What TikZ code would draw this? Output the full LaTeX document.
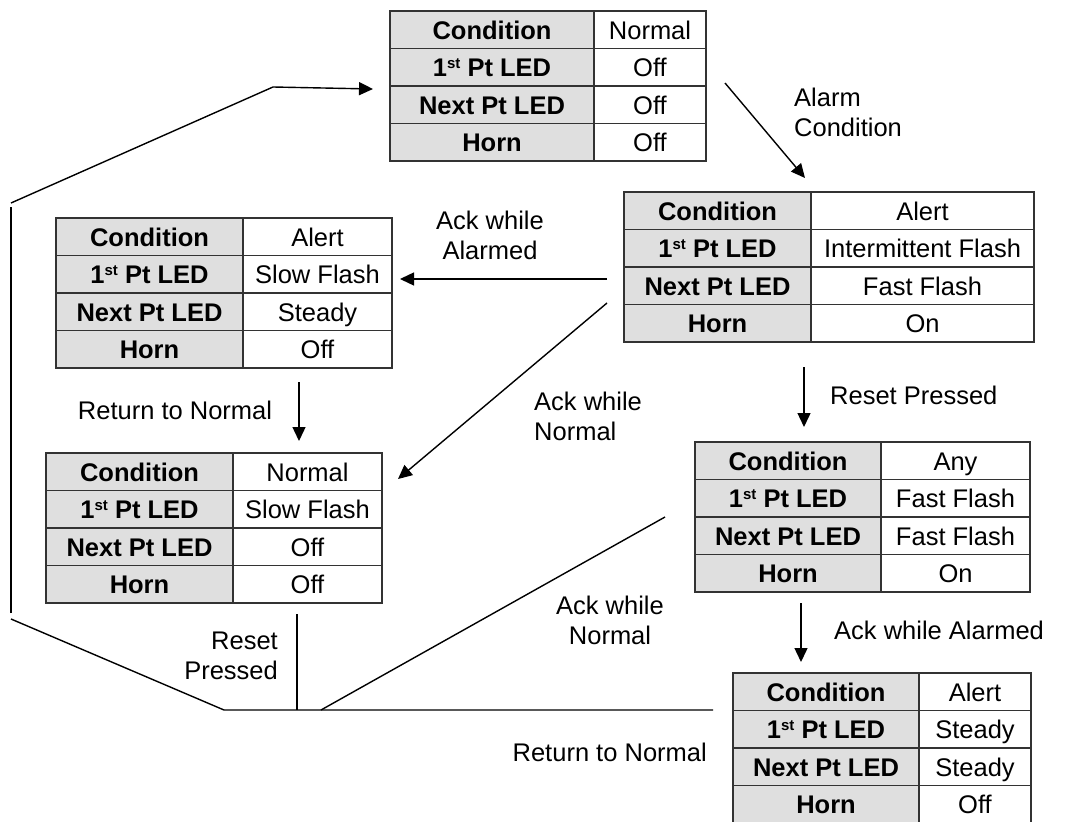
\documentclass[tikz,border=0pt]{standalone}
\usepackage{fontspec}
\setmainfont{Liberation Sans}
\usetikzlibrary{arrows.meta}
\definecolor{cellgray}{HTML}{DFDFDF}
\definecolor{gridline}{HTML}{333333}
\newcommand{\fst}{1\raisebox{8pt}{\fontsize{15}{15}\selectfont st}}
% name, x, y, w1, w2, v1, v2, v3, v4
\newcommand{\sttable}[9]{%
  \node[tblbox, minimum width={(#4+#5)*1pt}, anchor=north west] (#1) at (#2,#3) {};
  \fill[cellgray] (#2,#3) rectangle ++(#4,150);
  \draw[grid] (#2,#3) rectangle ++({#4+#5},150);
  \draw[grid] ({#2+#4},#3) -- ++(0,150);
  \foreach \r in {1,2,3} {\draw[grid] (#2,{#3+37.5*\r}) -- ++({#4+#5},0);}
  \node[bcell] at ({#2+#4/2},{#3+19}) {Condition};
  \node[bcell] at ({#2+#4/2},{#3+56.5}) {\fst\ Pt LED};
  \node[bcell] at ({#2+#4/2},{#3+94}) {Next Pt LED};
  \node[bcell] at ({#2+#4/2},{#3+131.5}) {Horn};
  \node[cell] at ({#2+#4+#5/2},{#3+19}) {#6};
  \node[cell] at ({#2+#4+#5/2},{#3+56.5}) {#7};
  \node[cell] at ({#2+#4+#5/2},{#3+94}) {#8};
  \node[cell] at ({#2+#4+#5/2},{#3+131.5}) {#9};
}
\begin{document}
\begin{tikzpicture}[x=1pt, y=-1pt,
  tblbox/.style={inner sep=0pt, outer sep=0pt, minimum height=150pt},
  grid/.style={draw=gridline, line width=1.4pt},
  cell/.style={inner sep=0pt, text height=18.3pt, text depth=0pt, font=\fontsize{25.5}{30}\selectfont},
  bcell/.style={cell, font=\fontsize{25.5}{30}\selectfont\bfseries},
  conn/.style={line width=1.4pt},
  arr/.style={conn, -{Triangle[length=14pt, width=13pt]}},
  lbl/.style={inner sep=0pt, font=\fontsize{25.5}{30}\selectfont}]
\useasboundingbox (0,0) rectangle (1067,821);
\clip (0,0) rectangle (1067,821);

\sttable{t1}{390}{11}{204}{112}{Normal}{Off}{Off}{Off}
\sttable{t2}{624}{192}{187}{223}{Alert}{Intermittent Flash}{Fast Flash}{On}
\sttable{t3}{56}{218}{187}{149}{Alert}{Slow Flash}{Steady}{Off}
\sttable{t4}{46}{453}{187}{149}{Normal}{Slow Flash}{Off}{Off}
\sttable{t5}{695}{442}{186}{149}{Any}{Fast Flash}{Fast Flash}{On}
\sttable{t6}{733}{673}{186}{112}{Alert}{Steady}{Steady}{Off}

% Alarm condition
\draw[arr] ([shift={(19,72)}]t1.north east) -- ([shift={(181,-14)}]t2.north west);
\node[lbl, anchor=west, align=left] (lalarm) at (794,112) {Alarm\\Condition};

% Ack while Alarmed (t2 -> t3)
\draw[arr] ([shift={(-17,87)}]t2.north west) -- ([shift={(8,61)}]t3.north east);
\node[lbl, align=center] (lackal1) at (490,235) {Ack while\\Alarmed};

% Ack while Normal (t2 -> t4)
\draw[arr] ([shift={(-17,111)}]t2.north west) -- ([shift={(16,26)}]t4.north east);
\node[lbl, anchor=west, align=left] (lackn1) at (534,416) {Ack while\\Normal};

% Return to Normal (t3 -> t4)
\draw[arr] ([shift={(243,14)}]t3.south west) -- ([shift={(253,-12)}]t4.north west);
\node[lbl] (lret1) at (175,410) {Return to Normal};

% Reset Pressed (t2 -> t5)
\draw[arr] ([shift={(180,25)}]t2.south west) -- ([shift={(109,-15)}]t5.north west);
\node[lbl, anchor=west] (lres1) at (830,395) {Reset Pressed};

% Ack while Alarmed (t5 -> t6)
\draw[arr] ([shift={(106,11)}]t5.south west) -- ([shift={(68,-11)}]t6.north west);
\node[lbl, anchor=west] (lackal2) at (834,630) {Ack while Alarmed};

% Return path to t1
\coordinate (jr) at ([shift={(-20,37)}]t6.north west);
\coordinate (jl) at (224,710);
\coordinate (c1) at (11,619);
\coordinate (c2) at (11,613);
\coordinate (c3) at (11,207);
\coordinate (c4) at (11,203);
\coordinate (c5) at (273,87);
\draw[conn] (jr) -- (jl) -- (c1);
\draw[conn] (c2) -- (c3);
\draw[conn] (c4) -- (c5);
\draw[arr] (c5) -- ([shift={(-17,78)}]t1.north west);
\coordinate (jres) at (297,710);
\coordinate (jack) at (321,710);
\draw[conn] ([shift={(251,11)}]t4.south west) -- (jres);
\draw[conn] ([shift={(-30,75)}]t5.north west) -- (jack);
\node[lbl, anchor=east, align=right] (lres2) at (278,656) {Reset\\Pressed};
\node[lbl, align=center] (lackn2) at (610,620) {Ack while\\Normal};
\node[lbl, anchor=east] (lret2) at (707,752) {Return to Normal};
\end{tikzpicture}
\end{document}
